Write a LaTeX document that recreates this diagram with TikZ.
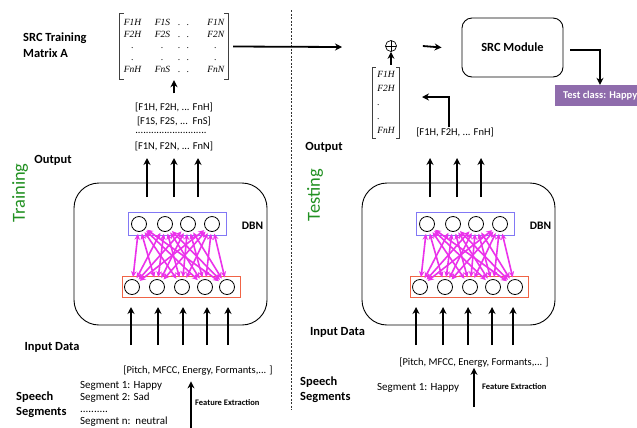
\documentclass[tikz,border=0pt]{standalone}
\usepackage{fontspec}
\setmainfont{Carlito}
\newfontfamily\entryfont{Liberation Serif}
\usetikzlibrary{arrows.meta,calc}
\definecolor{trainGreen}{RGB}{34,145,34}
\definecolor{layerBlue}{RGB}{130,120,245}
\definecolor{layerRed}{RGB}{240,100,70}
\definecolor{linkPink}{RGB}{235,50,235}
\definecolor{classPurple}{RGB}{143,108,172}
\begin{document}
\begin{tikzpicture}[x=1bp,y=-1bp,
  lbl/.style={font=\fontsize{12.5}{16}\selectfont\bfseries, inner sep=0},
  list/.style={font=\fontsize{10.5}{12}\selectfont, inner sep=0},
  side/.style={rotate=90, text=trainGreen, font=\fontsize{18.5}{20}\selectfont, inner sep=0},
  bracket/.style={line width=0.7bp, black!75},
  arrthick/.style={line width=1.8bp, -{Stealth[length=7bp,width=7bp]}},
  neuron/.style={circle, draw, line width=0.8bp, minimum size=15bp, inner sep=0},
  link/.style={linkPink, line width=1.6bp, shorten <=2bp, shorten >=2bp,
               {Stealth[length=6bp,width=5.5bp]}-{Stealth[length=6bp,width=5.5bp]}},
  layer/.style={draw, line width=0.9bp, inner sep=0},
  fx/.style={font=\fontsize{8.5}{10}\selectfont\bfseries, inner sep=0, anchor=west}]
\useasboundingbox (0,0) rectangle (637,427);
\fill[white] (0,0) rectangle (637,427);

% ---------- training matrix ----------
\node[lbl, align=left, anchor=west] (srcA) at (23,45) {SRC Training\\Matrix A};
\node[inner sep=0, minimum width=108bp, minimum height=65bp,
      font=\entryfont\itshape\fontsize{9.5}{11.75}\selectfont] (A) at (174,46.5) {%
  \begin{tabular}{@{}c@{\hspace{13.5bp}}c@{\hspace{8bp}}c@{\hspace{6.5bp}}c@{\hspace{18bp}}c@{}}
  F1H & F1S & . & . & F1N\\
  F2H & F2S & . & . & F2N\\
  . & . & . & . & .\\
  . & . & . & . & .\\
  FnH & FnS & . & . & FnN
  \end{tabular}};
\draw[bracket] ([xshift=4bp]A.north west) -- (A.north west) -- (A.south west) -- ([xshift=4bp]A.south west);
\draw[bracket] ([xshift=-4bp]A.north east) -- (A.north east) -- (A.south east) -- ([xshift=-4bp]A.south east);

\node[list] (h1) at (174,107) {[F1H, F2H, ... FnH]};
\node[list] (h2) at (174,121) {[F1S, F2S, ...\ \ FnS]};
\node[list] (h3) at (171,133) {...........................};
\node[list] (h4) at (174,146) {[F1N, F2N, ... FnN]};
\draw[arrthick, shorten >=1bp] ([yshift=9bp]h1.north) -- (h1.north |- A.south);

% ---------- training / testing divider ----------
\coordinate (dtop) at (291,10);
\coordinate (dbot) at (291,410);
\draw[line width=0.6bp, black!80, dash pattern=on 2bp off 1.5bp] (dtop) -- (dbot);

\coordinate (aend) at (342,47);
\draw[arrthick] ([xshift=5bp]A.east) -- (aend);

% ---------- testing: sum and SRC module ----------
\node[circle, draw, line width=0.7bp, minimum size=11bp, inner sep=0,
      path picture={\draw[line width=0.7bp] (path picture bounding box.north) -- (path picture bounding box.south)
                    (path picture bounding box.west) -- (path picture bounding box.east);}] (plus) at (391,46) {};
\node[inner sep=0, minimum width=26bp, minimum height=70bp,
      font=\entryfont\itshape\fontsize{9.5}{14}\selectfont] (V) at (386,103) {%
  \begin{tabular}{@{}l@{}}F1H\\F2H\\.\\.\\FnH\end{tabular}};
\draw[bracket] ([xshift=3bp]V.north west) -- (V.north west) -- (V.south west) -- ([xshift=3bp]V.south west);
\draw[bracket] ([xshift=-3bp]V.north east) -- (V.north east) -- (V.south east) -- ([xshift=-3bp]V.south east);
\draw[arrthick, line width=1.5bp, shorten <=3bp] (plus.south |- V.north) -- (plus.south);

\node[lbl, draw, line width=0.9bp, rounded corners=10bp, minimum width=101bp, minimum height=59bp] (src) at (512.5,47.5) {SRC Module};
\draw[arrthick] ([xshift=26bp]plus.east) -- ([xshift=-20bp]src.west);

\node[fill=classPurple, text=white, font=\fontsize{10.5}{12}\selectfont\bfseries, anchor=west,
      minimum height=21bp, inner xsep=8bp, inner ysep=0] (test) at (555,95.5) {Test class: Happy};
\draw[arrthick] ([xshift=7bp,yshift=-2.5bp]src.east) -| ([xshift=45bp]test.north west);

\node[list] (r1) at (455,132) {[F1H, F2H, ... FnH]};
\coordinate (vin) at (422,97);
\draw[arrthick] ([xshift=-6bp]r1.north) |- (vin);

% ---------- side labels ----------
\node[lbl] (outL) at (53,160) {Output};
\node[lbl] (outR) at (324,147) {Output};
\node[side] (trn) at (20,193) {Training};
\node[side] (tst) at (315,195) {Testing};

% ---------- the two DBN blocks ----------
\foreach \s/\p/\oa/\ia in {0/L/0/0, 288/R/-5/-3} {
  \begin{scope}[xshift=\s bp]
    \node[draw, line width=0.9bp, rounded corners=25bp, minimum width=193bp, minimum height=142bp] (\p-box) at (170.5,254) {};
    \node[layer, draw=layerBlue, minimum width=98bp, minimum height=23bp] (\p-top) at (177,223.5) {};
    \node[layer, draw=layerRed, minimum width=118bp, minimum height=21bp] (\p-bot) at (181,286.5) {};
    \foreach \x [count=\i] in {139,165,188,212}
      \node[neuron] (\p-t\i) at (\x,224) {};
    \foreach \x [count=\j] in {132,157,182,205,227}
      \node[neuron] (\p-b\j) at (\x,287) {};
    \node[font=\fontsize{11.5}{13}\selectfont\bfseries, inner sep=0] (\p-dbn) at (252.5,226) {DBN};
    \foreach \i in {1,...,4}
      \foreach \j in {1,...,5}
        \draw[link] (\p-t\i) -- (\p-b\j);
    \foreach \x [count=\k] in {147,174,198} {
      \coordinate (\p-oa\k) at (\x+\oa,197);
      \coordinate (\p-ob\k) at (\x+\oa,158);
      \draw[arrthick] (\p-oa\k) -- (\p-ob\k);
    }
    \foreach \x [count=\k] in {131,158,183,207,228} {
      \coordinate (\p-ia\k) at (\x+\ia,345);
      \coordinate (\p-ib\k) at (\x+\ia,307);
      \draw[arrthick] (\p-ia\k) -- (\p-ib\k);
    }
  \end{scope}
}

% ---------- inputs ----------
\node[lbl] (inL) at (52,347) {Input Data};
\node[lbl] (inR) at (337.5,332) {Input Data};
\node[list] (pitchL) at (198,371) {[Pitch, MFCC, Energy, Formants,... ]};
\node[list] (pitchR) at (474,363) {[Pitch, MFCC, Energy, Formants,... ]};
\node[lbl, align=left, anchor=west, font=\fontsize{12.5}{15}\selectfont\bfseries] (spL) at (16,404.5) {Speech\\Segments};
\node[lbl, align=left, anchor=west, font=\fontsize{12.5}{15}\selectfont\bfseries] (spR) at (300,389.5) {Speech\\Segments};
\node[inner sep=0, align=left, anchor=north west, font=\fontsize{11}{12.2}\selectfont] (segL) at (80,381)
  {Segment 1: Happy\\Segment 2: Sad\\..........\\Segment n:\ \ neutral};
\node[inner sep=0, anchor=west, font=\fontsize{11}{12.4}\selectfont] (segR) at (377,388) {Segment 1: Happy};

\coordinate (fxL) at (191,432);
\draw[arrthick, shorten >=5.5bp] (fxL) -- (fxL |- pitchL.south);
\node[fx] (fxlabL) at (195,403) {Feature Extraction};
\coordinate (fxR) at (474,407);
\draw[arrthick] (fxR) -- (pitchR.south);
\node[fx] (fxlabR) at (482,387) {Feature Extraction};
\end{tikzpicture}
\end{document}
